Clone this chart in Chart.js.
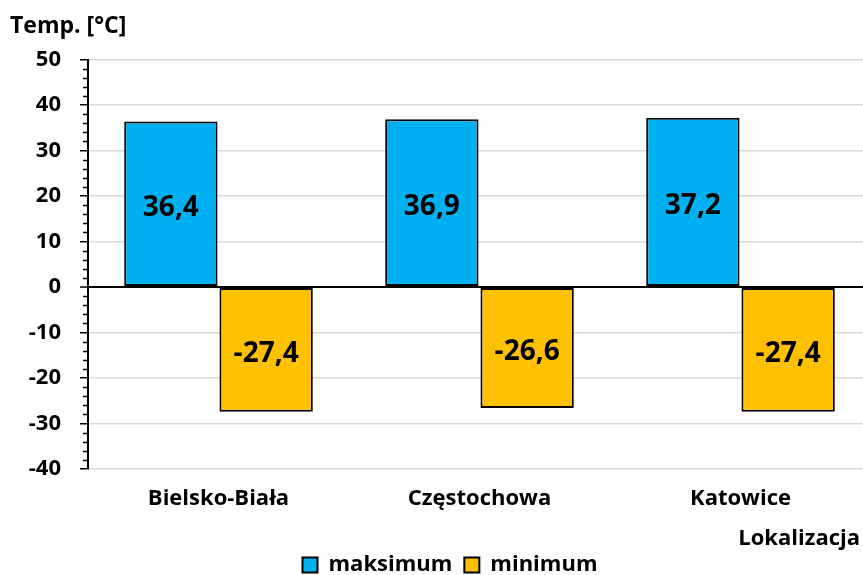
<!DOCTYPE html>
<html>
<head>
<meta charset="utf-8">
<script src="https://cdn.jsdelivr.net/npm/chart.js@4"></script>
<style>
  body { margin: 0; overflow: hidden; background: #fff; }
  #wrap { width: 863px; height: 575px; overflow: hidden; }
</style>
</head>
<body>
<div id="wrap"><canvas id="tempChart" width="890" height="575"></canvas></div>
<script>
const cities = ['Bielsko-Biała', 'Częstochowa', 'Katowice'];
const maxTemp = [36.4, 36.9, 37.2];
const minTemp = [-27.4, -26.6, -27.4];
const yTicks = [-40, -30, -20, -10, 0, 10, 20, 30, 40, 50];

const FONT = '"Open Sans", Lato, sans-serif';

// labels in the middle of every bar
const barLabels = {
    id: 'barLabels',
    afterDatasetsDraw(chart) {
        const c = chart.ctx;
        c.save();
        c.font = 'bold 28px ' + FONT;
        c.fillStyle = '#000';
        c.textAlign = 'center';
        c.textBaseline = 'middle';
        chart.data.datasets.forEach((ds, i) => {
            chart.getDatasetMeta(i).data.forEach((bar, j) => {
                const y = (bar.y + bar.base) / 2 + 4;
                c.fillText(String(ds.data[j]).replace('.', ','), bar.x, y);
            });
        });
        c.restore();
    }
};

// short minor ticks every 2 degrees
const minorTicks = {
    id: 'minorTicks',
    afterDraw(chart) {
        const s = chart.scales.y;
        const c = chart.ctx;
        c.save();
        c.strokeStyle = '#000';
        c.lineWidth = 1.5;
        for (let v = s.min; v <= s.max; v += 2) {
            if (v % 10 === 0) continue;
            const y = Math.round(s.getPixelForValue(v)) + 0.5;
            c.beginPath();
            c.moveTo(s.right - 5, y);
            c.lineTo(s.right, y);
            c.stroke();
        }
        c.restore();
    }
};

new Chart(document.getElementById('tempChart'), {
    type: 'bar',
    data: {
        labels: cities,
        datasets: [{
            label: 'maksimum',
            data: maxTemp,
            backgroundColor: '#00B0F0',
            borderColor: '#000',
            borderWidth: 2,
            borderSkipped: false
        }, {
            label: 'minimum',
            data: minTemp,
            backgroundColor: '#FFC000',
            borderColor: '#000',
            borderWidth: 2,
            borderSkipped: false
        }]
    },
    options: {
        responsive: false,
        animation: false,
        categoryPercentage: 0.73,
        barPercentage: 0.98,
        layout: { padding: { left: 10, top: 0, bottom: -11 } },
        plugins: {
            title: {
                display: true,
                text: 'Temp. [°C]',
                align: 'start',
                color: '#000',
                font: { family: FONT, size: 23, weight: 'bold' },
                padding: { top: 13, bottom: 19 }
            },
            legend: {
                position: 'bottom',
                labels: {
                    color: '#000',
                    boxWidth: 15,
                    boxHeight: 15,
                    padding: 12,
                    font: { family: FONT, size: 22, weight: 'bold' }
                }
            },
            tooltip: { enabled: false }
        },
        scales: {
            x: {
                afterFit: (s) => { s.height = 73; },
                grid: { display: false },
                border: { display: false },
                ticks: {
                    color: '#000',
                    padding: 9,
                    font: { family: FONT, size: 22, weight: 'bold' }
                },
                title: {
                    display: true,
                    text: 'Lokalizacja\u2002',
                    align: 'end',
                    color: '#000',
                    font: { family: FONT, size: 22, weight: 'bold' },
                    padding: { top: 0, bottom: -10 }
                }
            },
            y: {
                min: yTicks[0],
                max: yTicks[yTicks.length - 1],
                afterBuildTicks: (s) => { s.ticks = yTicks.map(v => ({ value: v })); },
                afterFit: (s) => { s.width = 78; },
                border: { color: '#000', width: 2 },
                grid: {
                    color: (ctx) => ctx.tick && ctx.tick.value === 0 ? '#000' : '#d9d9d9',
                    lineWidth: (ctx) => ctx.tick && ctx.tick.value === 0 ? 2 : 1.5,
                    tickColor: '#000',
                    tickLength: 8,
                    tickWidth: 1.5
                },
                ticks: {
                    color: '#000',
                    padding: 19,
                    font: { family: FONT, size: 22, weight: 'bold' }
                }
            },
            yRight: {
                position: 'right',
                display: true,
                afterFit: (s) => { s.width = 19; },
                grid: { display: false, drawOnChartArea: false },
                border: { display: false },
                ticks: { display: false }
            }
        }
    },
    plugins: [barLabels, minorTicks]
});
</script>
</body>
</html>
